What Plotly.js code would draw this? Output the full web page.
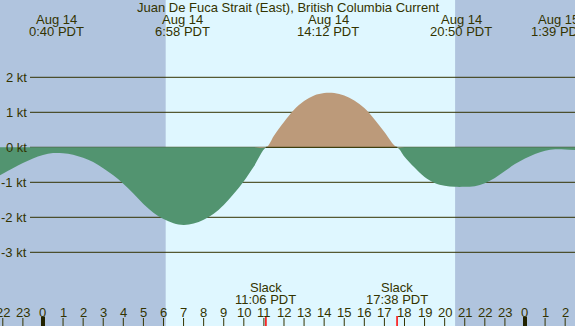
<!DOCTYPE html>
<html><head><meta charset="utf-8">
<script src="https://cdn.plot.ly/plotly-3.0.1.min.js"></script>
<style>html,body{margin:0;padding:0;overflow:hidden;background:#fff}#chart{width:575px;height:326px}</style>
</head><body><div id="chart"></div>
<script>
// Current (kt) vs hours since midnight Aug 14 (PDT)
const hours = [-2.14,-1.5,-1,-0.5,0,0.5,1,1.5,2,2.5,3,3.5,4,4.5,5,5.5,6,6.5,7,7.5,8,8.5,9,9.5,10,10.5,11.12,11.5,12,12.5,13,13.5,14,14.5,15,15.5,16,16.5,17,17.62,18,18.5,19,19.5,20,20.5,21,21.5,22,22.5,23,23.5,24,24.5,25,25.5,26,26.49];
const speed = [-0.80,-0.60,-0.45,-0.32,-0.22,-0.165,-0.17,-0.21,-0.30,-0.42,-0.60,-0.80,-1.04,-1.32,-1.62,-1.87,-2.05,-2.17,-2.22,-2.18,-2.07,-1.90,-1.65,-1.33,-0.97,-0.55,0,0.33,0.72,1.07,1.32,1.48,1.55,1.55,1.48,1.34,1.12,0.80,0.44,0,-0.27,-0.58,-0.85,-1.02,-1.10,-1.13,-1.13,-1.11,-1.03,-0.88,-0.68,-0.48,-0.32,-0.19,-0.10,-0.055,-0.06,-0.08];

const extremeHours = [0.67,6.97,14.2,20.83,25.65];
const extremeDates = ["Aug 14","Aug 14","Aug 14","Aug 14","Aug 15"];
const extremeTimes = ["0:40 PDT","6:58 PDT","14:12 PDT","20:50 PDT","1:39 PDT"];

const slackHours = [11.1,17.63];
const slackTimes = ["11:06 PDT","17:38 PDT"];

const tickHours = [-2,-1,0,1,2,3,4,5,6,7,8,9,10,11,12,13,14,15,16,17,18,19,20,21,22,23,24,25,26];
const tickLabels = ["22","23","0","1","2","3","4","5","6","7","8","9","10","11","12","13","14","15","16","17","18","19","20","21","22","23","0","1","2"];

const gridKt = [2,1,0,-1,-2,-3];
const gridLabels = ["2 kt","1 kt","0 kt","-1 kt","-2 kt","-3 kt"];

const nightSpans = [[-2.14,6.11],[20.52,26.49]];
const title = "Juan De Fuca Strait (East), British Columbia Current";

const W=575, H=326;
const xr=[-2.14,26.49], yr=[-5.106,4.209];
const txt="#333300";
const font={family:"Liberation Sans, Arial, sans-serif",size:13,color:txt};

const neg = speed.map(v=>Math.min(v,0));
const pos = speed.map(v=>Math.max(v,0));

const traces=[
 {x:hours,y:neg,type:'scatter',mode:'lines',line:{width:0,shape:'spline',smoothing:1},fill:'tozeroy',fillcolor:'#529470',hoverinfo:'skip'},
 {x:hours,y:pos,type:'scatter',mode:'lines',line:{width:0,shape:'spline',smoothing:1},fill:'tozeroy',fillcolor:'#bc9a7a',hoverinfo:'skip'}
];

const shapes=[];
nightSpans.forEach(s=>shapes.push({type:'rect',xref:'x',yref:'paper',x0:s[0],x1:s[1],y0:0,y1:1,fillcolor:'#b0c4de',line:{width:0},layer:'below'}));
gridKt.forEach(k=>shapes.push({type:'line',xref:'paper',yref:'y',x0:30/W,x1:1,y0:k,y1:k,line:{color:'#333300',width:1},layer:'below'}));
// zero line visible along the bottom of the flood (positive) area
shapes.push({type:'line',xref:'x',yref:'y',x0:slackHours[0],x1:slackHours[1],y0:0,y1:0,line:{color:'#333300',width:1}});
tickHours.forEach((h,i)=>{
  const mid = tickLabels[i]==="0";
  shapes.push({type:'line',xref:'x',yref:'paper',x0:h,x1:h,y0:0,y1:(mid?9.5:8)/H,line:{color:mid?'#222200':'#333300',width:mid?4:1}});
});
slackHours.forEach(h=>shapes.push({type:'line',xref:'x',yref:'paper',x0:h,x1:h,y0:0,y1:10/H,line:{color:'#ff0000',width:1.5}}));

const ann=[];
ann.push({text:title,xref:'paper',yref:'paper',x:0.5,y:1-7.5/H,xanchor:'center',yanchor:'middle',showarrow:false,font});
extremeHours.forEach((h,i)=>{
  ann.push({text:extremeDates[i],xref:'x',yref:'paper',x:h,y:1-20/H,xanchor:'center',yanchor:'middle',showarrow:false,font});
  ann.push({text:extremeTimes[i],xref:'x',yref:'paper',x:h,y:1-32/H,xanchor:'center',yanchor:'middle',showarrow:false,font});
});
slackHours.forEach((h,i)=>{
  ann.push({text:"Slack",xref:'x',yref:'paper',x:h,y:1-287.5/H,xanchor:'center',yanchor:'middle',showarrow:false,font});
  ann.push({text:slackTimes[i],xref:'x',yref:'paper',x:h,y:1-299.5/H,xanchor:'center',yanchor:'middle',showarrow:false,font});
});
tickHours.forEach((h,i)=>ann.push({text:tickLabels[i],xref:'x',yref:'paper',x:h,y:1-312/H,xanchor:'center',yanchor:'middle',showarrow:false,font}));
gridKt.forEach((k,i)=>ann.push({text:gridLabels[i],xref:'paper',yref:'y',x:28.5/W,y:k,xanchor:'right',yanchor:'middle',showarrow:false,font}));

Plotly.newPlot('chart',traces,{
  width:W,height:H,margin:{l:0,r:0,t:0,b:0,pad:0},
  paper_bgcolor:'#dff7ff',plot_bgcolor:'#dff7ff',showlegend:false,
  xaxis:{range:xr,visible:false,fixedrange:true},
  yaxis:{range:yr,visible:false,fixedrange:true},
  shapes,annotations:ann
},{staticPlot:true,displayModeBar:false});
</script></body></html>
